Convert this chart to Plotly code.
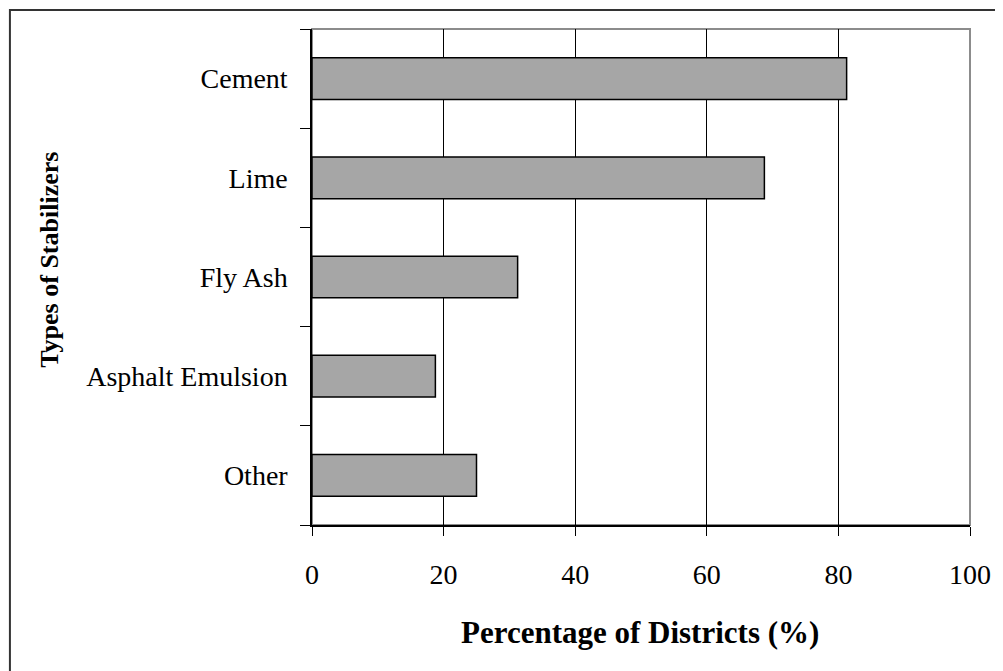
"""Horizontal bar chart: types of stabilizers used by districts."""

import plotly.graph_objects as go

# Data (top to bottom as drawn)
stabilizers = ["Cement", "Lime", "Fly Ash", "Asphalt Emulsion", "Other"]
pct_districts = [81.25, 68.75, 31.25, 18.75, 25.0]
x_ticks = [0, 20, 40, 60, 80, 100]

# Page geometry in screen px; the page body adds an 8px margin
OFF = 8
SCREEN_W, SCREEN_H = 1003, 671
W, H = SCREEN_W - OFF, SCREEN_H - OFF
PLOT_LEFT, PLOT_RIGHT, PLOT_TOP, PLOT_BOTTOM = 312, 972, 29, 525
L, T = PLOT_LEFT - OFF, PLOT_TOP - OFF
R, B = W - (PLOT_RIGHT - OFF), H - (PLOT_BOTTOM - OFF)
PW, PH = PLOT_RIGHT - PLOT_LEFT, PLOT_BOTTOM - PLOT_TOP

FONT = "Liberation Serif, Times New Roman, serif"


def px_x(px):
    """screen x -> paper x"""
    return (px - PLOT_LEFT) / PW


def px_y(py):
    """screen y -> paper y"""
    return (PLOT_BOTTOM - py) / PH


fig = go.Figure(
    go.Bar(
        x=pct_districts,
        y=stabilizers,
        orientation="h",
        width=0.42,
        marker=dict(color="#a6a6a6", line=dict(color="black", width=1.5)),
        hoverinfo="x+y",
    )
)

fig.update_layout(
    width=W,
    height=H,
    margin=dict(l=L, r=R, t=T, b=B, pad=0),
    paper_bgcolor="white",
    plot_bgcolor="white",
    showlegend=False,
    font=dict(family=FONT, color="black", size=28),
    xaxis=dict(
        range=[0, 100],
        tickvals=x_ticks,
        ticks="outside",
        ticklen=9,
        tickcolor="black",
        showgrid=True,
        gridcolor="black",
        gridwidth=1,
        showline=True,
        linecolor="black",
        linewidth=1.5,
        zeroline=False,
        tickfont=dict(size=28),
        ticklabelstandoff=15,
        fixedrange=True,
    ),
    yaxis=dict(
        categoryorder="array",
        categoryarray=stabilizers[::-1],
        range=[-0.5, 4.5],
        tickson="boundaries",
        ticks="outside",
        ticklen=10,
        tickcolor="black",
        showgrid=False,
        showline=True,
        linecolor="black",
        linewidth=1.5,
        zeroline=False,
        tickfont=dict(size=28),
        ticklabelstandoff=17,
        fixedrange=True,
    ),
    shapes=[
        # grey frame on top / right of plot area
        dict(type="rect", xref="paper", yref="paper", x0=0, y0=0, x1=1, y1=1,
             line=dict(color="#8c8c8c", width=2), layer="below"),
        # outer chart border (only top and left edges fall inside the view)
        dict(type="rect", xref="paper", yref="paper",
             x0=px_x(9), y0=px_y(700), x1=px_x(1030), y1=px_y(10),
             line=dict(color="#333333", width=2)),
    ],
    annotations=[
        dict(text="<b>Types of Stabilizers</b>", textangle=-90,
             xref="paper", yref="paper", x=px_x(48), y=px_y(260),
             xanchor="center", yanchor="middle", showarrow=False,
             font=dict(size=26)),
        dict(text="<b>Percentage of Districts (%)</b>",
             xref="paper", yref="paper", x=px_x(641), y=px_y(632),
             xanchor="center", yanchor="middle", showarrow=False,
             font=dict(size=31)),
    ],
)

fig.write_html("out.html")
